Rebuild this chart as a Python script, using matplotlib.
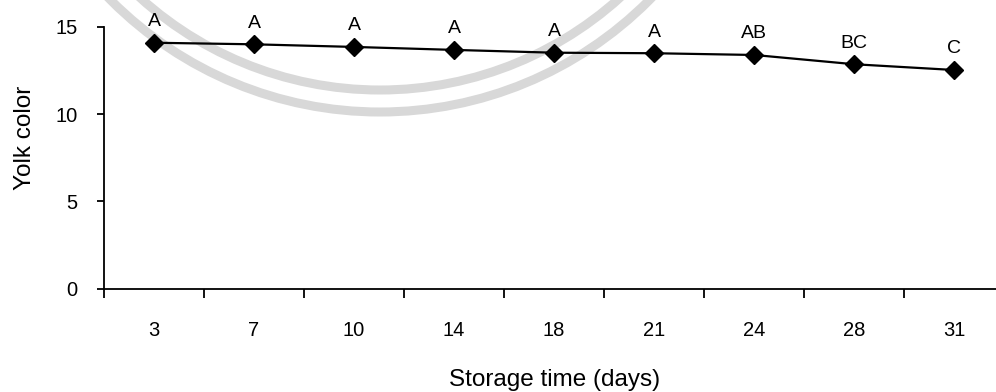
import matplotlib
matplotlib.use('Agg')
import matplotlib.pyplot as plt
from matplotlib.patches import Circle

plt.rcParams['font.family'] = ['Liberation Sans', 'DejaVu Sans']

# Yolk colour score over storage time, with significance letters
days = ['3', '7', '10', '14', '18', '21', '24', '28', '31']
yolk_color = [14.08, 13.99, 13.84, 13.67, 13.51, 13.48, 13.38, 12.85, 12.52]
letters = ['A', 'A', 'A', 'A', 'A', 'A', 'AB', 'BC', 'C']
y_ticks = [0, 5, 10, 15]

fig = plt.figure(figsize=(9.96, 3.92), dpi=100)

# faint seal rings in the background (pixel coordinates)
bg = fig.add_axes([0, 0, 1, 1], zorder=0)
bg.set_xlim(0, 996)
bg.set_ylim(392, 0)
bg.axis('off')
for r in [380, 358]:
    bg.add_patch(Circle((380, -268), r, fill=False, ec='#d8d8d8', lw=6.5))

ax = fig.add_axes([0.1044, 0.263, 0.904, 0.669], zorder=1)
ax.patch.set_alpha(0)

x = list(range(len(days)))
ax.plot(x, yolk_color, color='black', lw=1.6, marker='D', ms=9, mfc='black', mec='black')

for xi, yi, lab in zip(x, yolk_color, letters):
    ax.annotate(lab, (xi, yi), xytext=(0, 12), textcoords='offset points',
                ha='center', va='baseline', fontsize=14)

ax.set_xlim(-0.5, len(days) - 0.5)
ax.set_ylim(0, 15)
ax.set_yticks(y_ticks)

ax.set_xticks(x)
ax.set_xticklabels(days)
ax.set_xticks([i - 0.5 for i in range(len(days))], minor=True)
ax.tick_params(axis='x', which='major', length=0, pad=23, labelsize=14.5)
ax.tick_params(axis='x', which='minor', length=6.5, width=1.3, direction='out')
ax.tick_params(axis='y', length=5, width=1.3, pad=14, labelsize=14.5)

ax.spines['top'].set_visible(False)
ax.spines['right'].set_visible(False)
ax.spines['left'].set_linewidth(1.3)
ax.spines['bottom'].set_linewidth(1.3)

ax.set_xlabel('Storage time (days)', fontsize=17.5, labelpad=21)
ax.set_ylabel('Yolk color', fontsize=17.5)
ax.yaxis.set_label_coords(-0.076, 0.576)

fig.savefig('out.png', dpi=100)
